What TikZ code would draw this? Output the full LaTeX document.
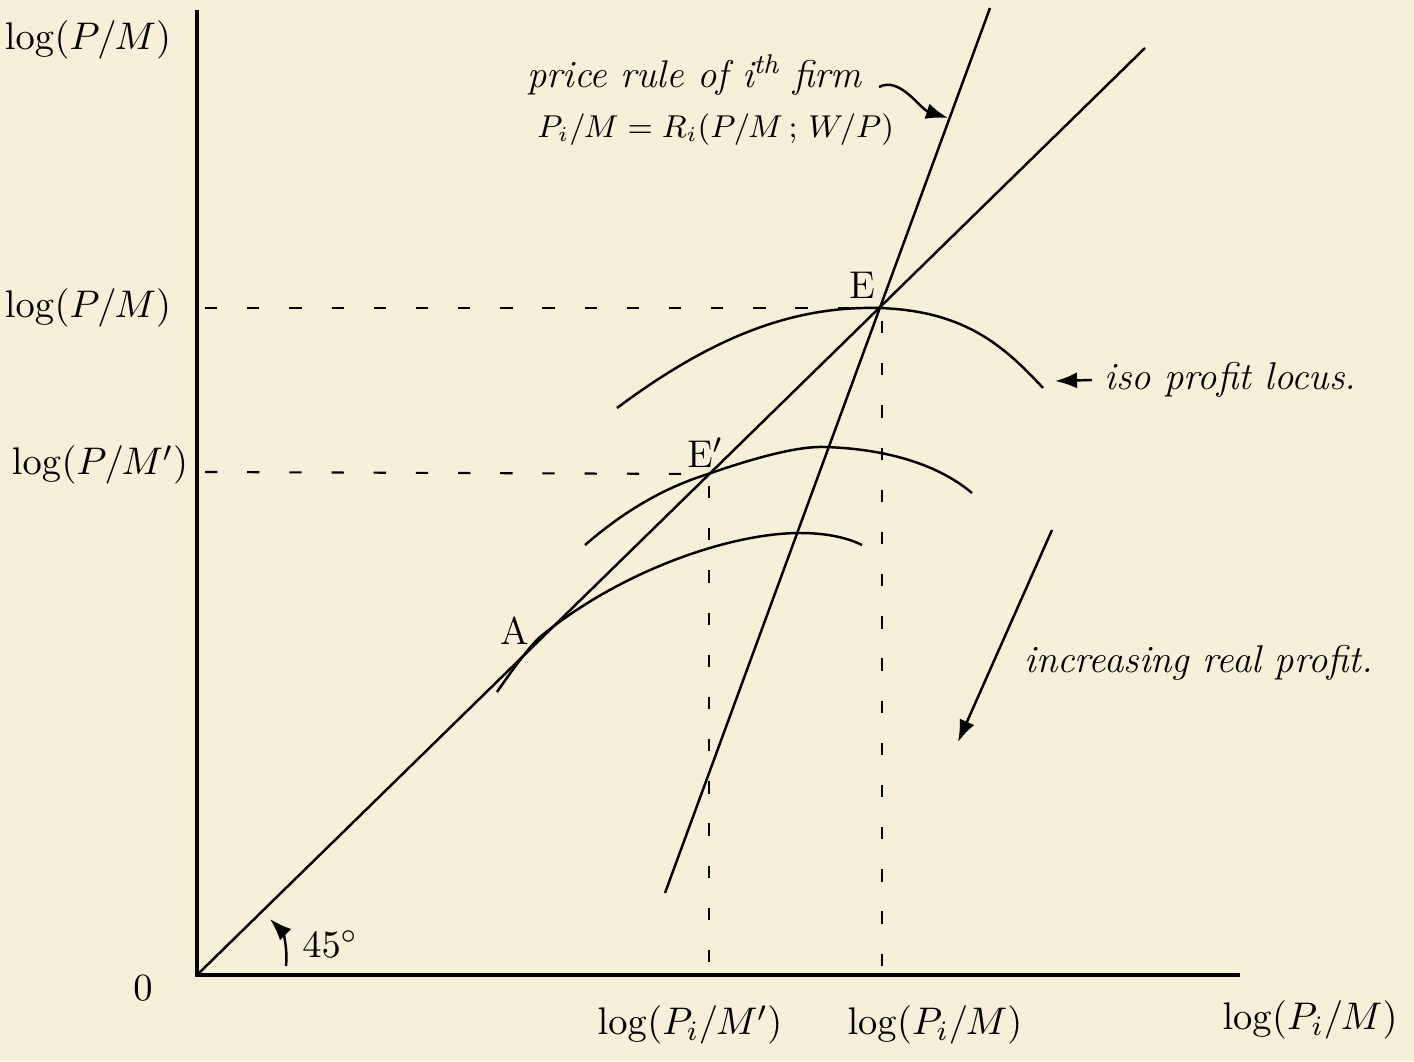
\documentclass[tikz,border=0pt]{standalone}
\usepackage{amsmath,amssymb}
\usepackage{tikz}
\usetikzlibrary{arrows.meta}
\definecolor{paper}{RGB}{246,240,216}

\begin{document}
\begin{tikzpicture}[>={Latex[length=2.2mm,width=1.6mm]},every node/.style={font=\fontsize{11}{13}\selectfont},
  axisline/.style={line width=0.9pt},
  curveline/.style={line width=0.7pt},
  guide/.style={line width=0.6pt,dash pattern=on 3.5pt off 8.5pt}]
\fill[paper] (0,0) rectangle (14.14,10.61); \useasboundingbox (0,0) rectangle (14.14,10.61);
% axes and key points
\coordinate (O) at (1.97,0.86); \coordinate (E) at (8.80,7.53); \coordinate (Ep) at (7.08,5.87); \coordinate (A) at (5.40,4.24);
\draw[axisline] (1.97,10.51)--(O)--(12.40,0.86);
\draw[curveline] (O)--(11.45,10.13);
\draw[curveline] (6.65,1.68)--(9.90,10.53);
% guides
\draw[guide] (2.05,7.53)--(E); \draw[guide] (2.05,5.89)--(Ep);
\draw[guide] (8.82,7.40)--(8.82,0.86); \draw[guide] (7.09,5.75)--(7.09,0.86);
% iso profit loci
\draw[curveline] (6.17,6.53).. controls (7.2,7.3) and (8.0,7.55)..(E).. controls (9.6,7.5) and (10.0,7.2)..(10.43,6.73);
\draw[curveline] (5.85,5.16).. controls (6.3,5.55) and (6.7,5.75)..(Ep).. controls (7.6,6.05) and (8.0,6.15)..(8.25,6.14).. controls (8.9,6.12) and (9.4,5.95)..(9.72,5.68);
\draw[curveline] (4.97,3.69).. controls (5.15,3.95) and (5.3,4.15)..(A).. controls (6.2,4.9) and (7.3,5.28)..(8.00,5.28).. controls (8.3,5.28) and (8.5,5.22)..(8.62,5.16);
% labels
\node (ytop) at (0.88,10.21){$\log(P/M)$};
\node (yE) at (0.88,7.53){$\log(P/M)$};
\node (yEp) at (1.00,5.96){$\log(P/M')$};
\node (zero) at (1.43,0.73){$0$};
\node (xEp) at (6.90,0.36){$\log(P_i/M')$};
\node (xE) at (9.35,0.36){$\log(P_i/M)$};
\node (xend) at (13.10,0.41){$\log(P_i/M)$};
\node (lE) at (8.62,7.76){E}; \node (lEp) at (7.05,6.08){E$'$}; \node (lA) at (5.15,4.30){A};
\node[anchor=west] (rule) at (5.15,9.86){\itshape price rule of i$^{\text{th}}$ firm};
\node[anchor=west,font=\fontsize{9}{11}\selectfont] (ruleeq) at (5.25,9.31){$P_i/M = R_i(P/M\,;\,W/P)$};
\coordinate (ruletip) at (9.48,9.43);
\draw[->,curveline] (rule.east)+(0.05,-0.12).. controls (9.0,9.85) and (9.2,9.52)..(ruletip);
\node[anchor=west] (iso) at (10.92,6.81){\itshape iso profit locus.};
\coordinate (isotip) at (10.55,6.80);
\draw[->,curveline] (iso.west)--(isotip);
\node[anchor=west] (incr) at (10.12,3.98){\itshape increasing real profit.};
\coordinate (incrfrom) at (10.52,5.31); \coordinate (incrto) at (9.58,3.19);
\draw[->,curveline] (incrfrom)--(incrto);
% angle mark
\coordinate (angfrom) at (2.86,0.95); \coordinate (angto) at (2.70,1.42);
\draw[->,curveline] (angfrom).. controls (2.88,1.15) and (2.82,1.30)..(angto);
\node[anchor=west] (ang) at (2.90,1.17){$45^\circ$};
\end{tikzpicture}
\end{document}
